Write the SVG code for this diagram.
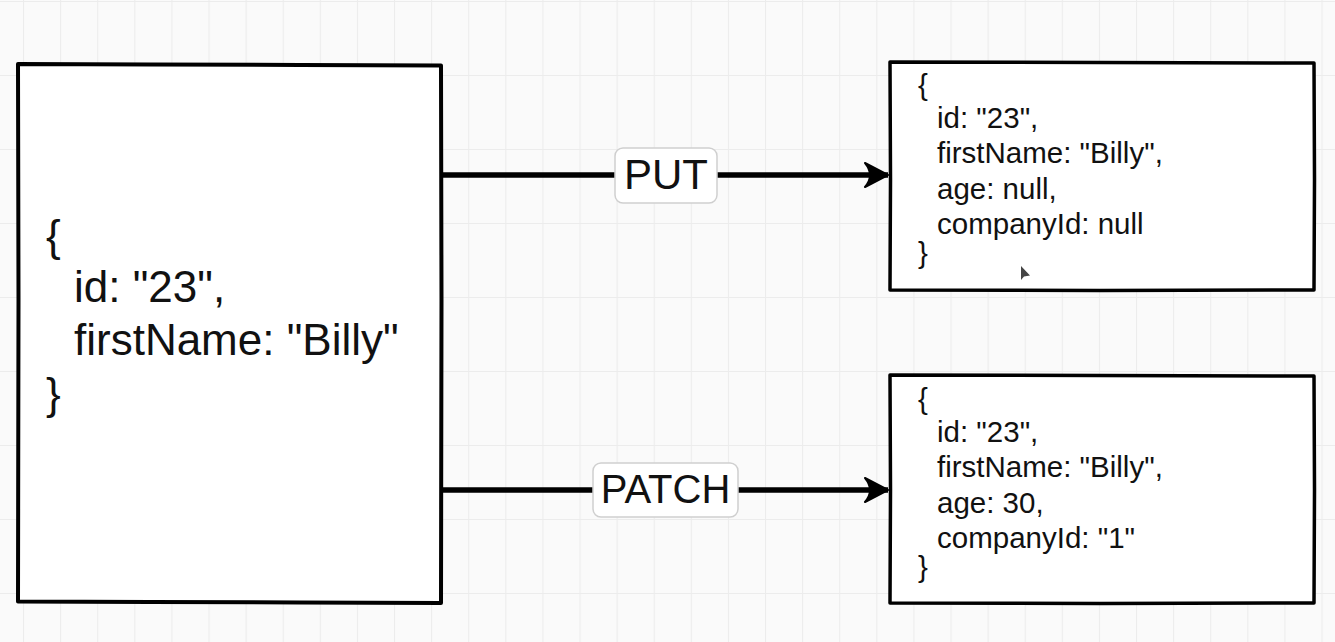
<svg xmlns="http://www.w3.org/2000/svg" width="1335" height="642" viewBox="0 0 1335 642">
  <defs>
    <pattern id="grid" patternUnits="userSpaceOnUse" x="23" y="1" width="37.1" height="74">
      <path d="M0.5 0 V74 M0 0.5 H37.1" fill="none" stroke="#ececec" stroke-width="1.2"/>
    </pattern>
    <marker id="arrow" markerUnits="userSpaceOnUse" markerWidth="30" markerHeight="30" refX="26" refY="13" orient="auto">
      <path d="M26 13 L3 1 Q8 7 8 13 Q8 19 3 25 Z" fill="#000" stroke="#000" stroke-width="2" stroke-linejoin="round"/>
    </marker>
    <style>
      .box { fill: #ffffff; stroke: #000000; stroke-linejoin: round; }
      .big { font-family: "Liberation Sans", Arial, sans-serif; font-size: 44px; fill: #111; }
      .small { font-family: "Liberation Sans", Arial, sans-serif; font-size: 29.5px; fill: #111; }
      .lbl { fill: #ffffff; stroke: #cfcfcf; stroke-width: 1.5; }
      .lbltxt { font-family: "Liberation Sans", Arial, sans-serif; fill: #111; text-anchor: middle; }
      .conn { fill: none; stroke: #000; stroke-width: 5.5; }
    </style>
  </defs>
  <rect width="1335" height="642" fill="#fafafa"/>
  <rect width="1335" height="642" fill="url(#grid)"/>

  <g id="connectors">
    <g id="put-edge">
      <line class="conn" x1="441" y1="175" x2="888" y2="175" marker-end="url(#arrow)"/>
      <rect class="lbl" x="615" y="148" width="102" height="55" rx="8"/>
      <text class="lbltxt" x="666" y="189" font-size="42">PUT</text>
    </g>
    <g id="patch-edge">
      <line class="conn" x1="441" y1="490" x2="888" y2="490" marker-end="url(#arrow)"/>
      <rect class="lbl" x="593" y="463" width="145" height="54" rx="8"/>
      <text class="lbltxt" x="665.5" y="503" font-size="40">PATCH</text>
    </g>
  </g>

  <g id="source">
    <path class="box" stroke-width="4" d="M18 64 L150 64.5 L300 65 L441 65.5 L441.5 300 L441 603 L300 602.5 L150 602 L18 601.5 L18.5 300 Z"/>
    <text class="big" x="46" y="251">{</text>
    <text class="big" x="74" y="302">id: "23",</text>
    <text class="big" x="74" y="355">firstName: "Billy"</text>
    <text class="big" x="46" y="409">}</text>
  </g>

  <g id="put-result">
    <path class="box" stroke-width="3.5" d="M890 62 L1100 62.5 L1314 63 L1314.5 180 L1314 290 L1100 290.5 L890 290 L890.5 180 Z"/>
    <text class="small" x="918" y="95">{</text>
    <text class="small" x="937" y="128">id: "23",</text>
    <text class="small" x="937" y="163">firstName: "Billy",</text>
    <text class="small" x="937" y="199">age: null,</text>
    <text class="small" x="937" y="234">companyId: null</text>
    <text class="small" x="918" y="263">}</text>
  </g>

  <g id="patch-result">
    <path class="box" stroke-width="3.5" d="M890 375 L1100 375.5 L1314 376 L1314.5 490 L1314 603 L1100 603.5 L890 603 L890.5 490 Z"/>
    <text class="small" x="918" y="409">{</text>
    <text class="small" x="937" y="442">id: "23",</text>
    <text class="small" x="937" y="477">firstName: "Billy",</text>
    <text class="small" x="937" y="513">age: 30,</text>
    <text class="small" x="937" y="548">companyId: "1"</text>
    <text class="small" x="918" y="577">}</text>
  </g>

  <path d="M1021 266 L1021 280 L1024 276.5 L1030 275.5 Z" fill="#444"/>
</svg>
